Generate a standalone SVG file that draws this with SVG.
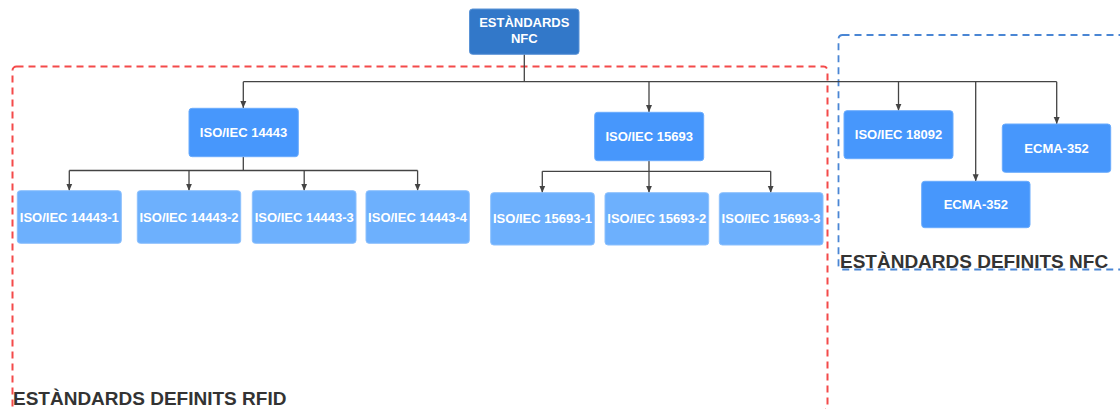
<svg xmlns="http://www.w3.org/2000/svg" width="1120" height="409" viewBox="0 0 1120 409">
<style>
.l0{fill:#3278c9;stroke:#5a93d6;stroke-width:1}
.l1{fill:#4797fc;stroke:#6aacfd;stroke-width:1}
.l2{fill:#6db0fd;stroke:#8cc0fd;stroke-width:1}
.t{font-family:"Liberation Sans",Arial,sans-serif;font-weight:bold;font-size:13px;fill:#ffffff;text-anchor:middle}
.lbl{font-family:"Liberation Sans",Arial,sans-serif;font-weight:bold;font-size:19px;fill:#333333}
.c{fill:none;stroke:#444444;stroke-width:1.3}
</style>
<defs>
<marker id="ah" markerUnits="userSpaceOnUse" markerWidth="8" markerHeight="8" refX="7" refY="4" orient="auto">
<path d="M0,1 L7,4 L0,7 Z" fill="#444444"/>
</marker>
</defs>

<g id="group-rfid">
<rect x="12.5" y="66.5" width="815" height="343.8" rx="4" fill="none" stroke="#f44a4a" stroke-width="2" stroke-dasharray="7 5"/>
<text class="lbl" x="13" y="405">ESTÀNDARDS DEFINITS RFID</text>
</g>
<g id="group-nfc">
<rect x="838.5" y="35" width="300" height="234.5" rx="4" fill="none" stroke="#4a86d4" stroke-width="1.8" stroke-dasharray="7 5"/>
<text class="lbl" x="840" y="267.5" font-size="18.8">ESTÀNDARDS DEFINITS NFC</text>
</g>

<g id="connectors">
<path class="c" d="M524.3,54.3 V81.7 M243.3,81.7 H1056.7"/>
<path class="c" d="M243.3,81.7 V108" marker-end="url(#ah)"/>
<path class="c" d="M649,81.7 V112" marker-end="url(#ah)"/>
<path class="c" d="M898.5,81.7 V110.7" marker-end="url(#ah)"/>
<path class="c" d="M975.7,81.7 V181.3" marker-end="url(#ah)"/>
<path class="c" d="M1056.7,81.7 V124" marker-end="url(#ah)"/>
<path class="c" d="M243.3,156.7 V170.5 M69.3,170.5 H417.6"/>
<path class="c" d="M69.3,170.5 V190.7" marker-end="url(#ah)"/>
<path class="c" d="M189,170.5 V190.7" marker-end="url(#ah)"/>
<path class="c" d="M304.2,170.5 V190.7" marker-end="url(#ah)"/>
<path class="c" d="M417.6,170.5 V190.7" marker-end="url(#ah)"/>
<path class="c" d="M649,160.7 V171.3 M542.3,171.3 H770.7"/>
<path class="c" d="M542.3,171.3 V192.7" marker-end="url(#ah)"/>
<path class="c" d="M649,171.3 V192.7" marker-end="url(#ah)"/>
<path class="c" d="M770.7,171.3 V192.7" marker-end="url(#ah)"/>
</g>

<g id="n-root"><rect class="l0" x="469.5" y="9" width="109.5" height="45.3" rx="3"/><text class="t" x="524.3" y="27">ESTÀNDARDS</text><text class="t" x="524.3" y="43">NFC</text></g>

<g id="n-14443"><rect class="l1" x="189" y="108.3" width="109.3" height="48.4" rx="3"/><text class="t" x="243.6" y="137">ISO/IEC 14443</text></g>
<g id="n-15693"><rect class="l1" x="594.7" y="112.3" width="109" height="48.4" rx="3"/><text class="t" x="649.2" y="141">ISO/IEC 15693</text></g>
<g id="n-18092"><rect class="l1" x="844" y="110.7" width="109" height="48" rx="3"/><text class="t" x="898.5" y="139.3">ISO/IEC 18092</text></g>
<g id="n-ecma-a"><rect class="l1" x="921.7" y="181.3" width="108.3" height="46.4" rx="3"/><text class="t" x="975.8" y="209">ECMA-352</text></g>
<g id="n-ecma-b"><rect class="l1" x="1002.3" y="124" width="108.4" height="48.3" rx="3"/><text class="t" x="1056.5" y="152.7">ECMA-352</text></g>

<g id="n-14443-1"><rect class="l2" x="17.3" y="190.7" width="104" height="52.6" rx="3"/><text class="t" x="69.3" y="221.5">ISO/IEC 14443-1</text></g>
<g id="n-14443-2"><rect class="l2" x="137.3" y="190.7" width="103.4" height="52.6" rx="3"/><text class="t" x="189" y="221.5">ISO/IEC 14443-2</text></g>
<g id="n-14443-3"><rect class="l2" x="252.3" y="190.7" width="103.7" height="52.6" rx="3"/><text class="t" x="304.2" y="221.5">ISO/IEC 14443-3</text></g>
<g id="n-14443-4"><rect class="l2" x="366" y="190.7" width="103.3" height="52.6" rx="3"/><text class="t" x="417.6" y="221.5">ISO/IEC 14443-4</text></g>

<g id="n-15693-1"><rect class="l2" x="490.7" y="192.7" width="103.6" height="52.3" rx="3"/><text class="t" x="542.5" y="223.3">ISO/IEC 15693-1</text></g>
<g id="n-15693-2"><rect class="l2" x="605" y="192.7" width="103.7" height="52.3" rx="3"/><text class="t" x="656.8" y="223.3">ISO/IEC 15693-2</text></g>
<g id="n-15693-3"><rect class="l2" x="719.3" y="192.7" width="103.7" height="52.3" rx="3"/><text class="t" x="771.1" y="223.3">ISO/IEC 15693-3</text></g>
</svg>
